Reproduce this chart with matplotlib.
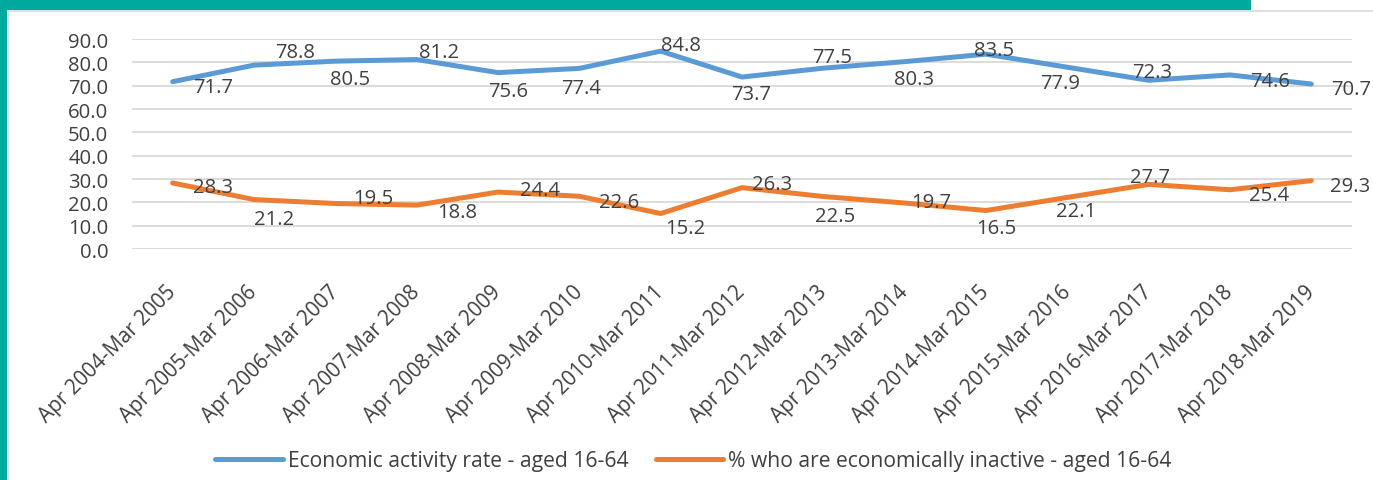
import matplotlib
matplotlib.use("Agg")
import matplotlib.pyplot as plt
from matplotlib.patches import Rectangle
from matplotlib.lines import Line2D

periods = ["Apr 2004-Mar 2005", "Apr 2005-Mar 2006", "Apr 2006-Mar 2007",
           "Apr 2007-Mar 2008", "Apr 2008-Mar 2009", "Apr 2009-Mar 2010",
           "Apr 2010-Mar 2011", "Apr 2011-Mar 2012", "Apr 2012-Mar 2013",
           "Apr 2013-Mar 2014", "Apr 2014-Mar 2015", "Apr 2015-Mar 2016",
           "Apr 2016-Mar 2017", "Apr 2017-Mar 2018", "Apr 2018-Mar 2019"]
activity_rate = [71.7, 78.8, 80.5, 81.2, 75.6, 77.4, 84.8, 73.7, 77.5, 80.3,
                 83.5, 77.9, 72.3, 74.6, 70.7]
inactive_rate = [28.3, 21.2, 19.5, 18.8, 24.4, 22.6, 15.2, 26.3, 22.5, 19.7,
                 16.5, 22.1, 27.7, 25.4, 29.3]
y_ticks = [0, 10, 20, 30, 40, 50, 60, 70, 80, 90]

# data label offsets (pixels) as placed in the original chart
activity_offsets = [(40, -5), (41, 13), (15, -18), (22, 8), (10, -18), (2, -20),
                    (20, 6), (9, -17), (9, 11), (9, -17), (8, 4), (-7, -16),
                    (4, 8), (40, -6), (40, -5)]
inactive_offsets = [(40, -4), (20, -19), (38, 5), (41, -7), (42, 2), (40, -6),
                    (25, -14), (30, 4), (12, -20), (27, 1), (10, -17), (9, -14),
                    (1, 7), (39, -5), (39, -5)]

BLUE = "#5B9BD5"
ORANGE = "#ED7D31"
TEAL = "#00A99D"
TEXT = "#404040"
GRID = "#D9D9D9"

plt.rcParams["font.family"] = ["Open Sans", "DejaVu Sans"]

W, H = 1373, 481
fig = plt.figure(figsize=(W / 100, H / 100), dpi=100)
ax = fig.add_axes([132 / W, 1 - 250 / H, (1352 - 132) / W, (250 - 40) / H])

x = list(range(len(periods)))
ax.plot(x, activity_rate, color=BLUE, lw=3.6, solid_capstyle="round",
        solid_joinstyle="round", zorder=3)
ax.plot(x, inactive_rate, color=ORANGE, lw=3.6, solid_capstyle="round",
        solid_joinstyle="round", zorder=3)

for xi, v, off in zip(x, activity_rate, activity_offsets):
    ax.annotate(f"{v:.1f}", (xi, v), xytext=off, textcoords="offset pixels",
                ha="center", va="center", fontsize=14.6, color=TEXT,
                annotation_clip=False, zorder=4)
for xi, v, off in zip(x, inactive_rate, inactive_offsets):
    ax.annotate(f"{v:.1f}", (xi, v), xytext=off, textcoords="offset pixels",
                ha="center", va="center", fontsize=14.6, color=TEXT,
                annotation_clip=False, zorder=4)

ax.set_xlim(-0.5, len(periods) - 0.5)
ax.set_ylim(0, 90)
ax.set_yticks(y_ticks)
ax.set_yticklabels([f"{t:.1f}" for t in y_ticks])
ax.set_xticks(x)
ax.set_xticklabels(periods, rotation=45, ha="right", va="center",
                   rotation_mode="anchor")
ax.tick_params(axis="y", length=0, pad=17, labelsize=14.6, labelcolor=TEXT)
ax.tick_params(axis="x", length=0, pad=28, labelsize=14.9, labelcolor=TEXT)
ax.grid(axis="y", color=GRID, lw=1.3)
ax.set_axisbelow(True)
for s in ax.spines.values():
    s.set_visible(False)

handles = [Line2D([], [], color=BLUE, lw=3.6, solid_capstyle="round"),
           Line2D([], [], color=ORANGE, lw=3.6, solid_capstyle="round")]
fig.legend(handles, ["Economic activity rate - aged 16-64",
                     "% who are economically inactive - aged 16-64"],
           loc="center", bbox_to_anchor=(0.505, 1 - 462 / H), ncol=2,
           frameon=False, fontsize=15.2, labelcolor=TEXT, handlelength=3.2,
           handletextpad=0.22, columnspacing=1.3)

# teal frame and thin border of the chart area
fig.add_artist(Rectangle((0, 1 - 10.5 / H), 1251 / W, 10.5 / H,
                         transform=fig.transFigure, color=TEAL, lw=0))
fig.add_artist(Rectangle((0, 0), 7 / W, 1, transform=fig.transFigure,
                         color=TEAL, lw=0))
fig.add_artist(Line2D([7.5 / W, 1], [1 - 11.8 / H, 1 - 11.8 / H],
                      transform=fig.transFigure, color=GRID, lw=1.2))
fig.add_artist(Line2D([7.5 / W, 7.5 / W], [0, 1 - 11.8 / H],
                      transform=fig.transFigure, color=GRID, lw=1.0))

fig.savefig("out.png", dpi=100)
